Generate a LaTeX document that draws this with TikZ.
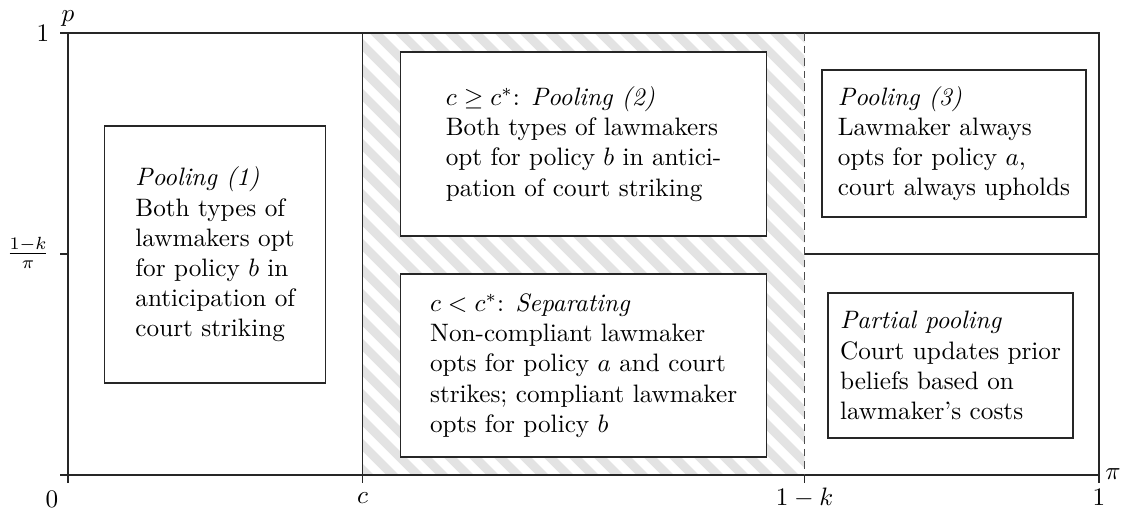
\documentclass[tikz,border=0pt]{standalone}
\usetikzlibrary{calc}
\begin{document}
\begin{tikzpicture}[x=0.3968pt,y=-0.3968pt,
  axis/.style={line width=0.45pt, black!85},
  hatch/.style={gray!22, line width=3.5pt},
  divider/.style={line width=0.45pt, black!70},
  regionbox/.style={draw=black!85, fill=white, inner sep=0pt, line width=0.5pt,
                    align=left, font=\fontsize{10}{12}\selectfont},
  lbl/.style={inner sep=0pt, font=\fontsize{10}{12}\selectfont}]
\useasboundingbox (0,0) rectangle (1130,516);

% key positions: origin, c, 1-k, right end, top, middle height
\coordinate (O)   at (68,475);
\coordinate (TL)  at (68,33);
\coordinate (C0)  at (362.6,475);
\coordinate (C1)  at (362.6,33);
\coordinate (K0)  at (804.5,475);
\coordinate (K1)  at (804.5,33);
\coordinate (R0)  at (1099,475);
\coordinate (R1)  at (1099,33);
\coordinate (KM)  at (804.5,254);
\coordinate (RM)  at (1099,254);

% hatched band between c and 1-k
\begin{scope}
  \clip (C1) rectangle (K0);
  \foreach \k in {-475,-450,...,475}
    \draw[hatch] (362.6+\k,20) -- ++(480,480);
\end{scope}

% frame and axes with ticks
\draw[axis] (60,475) -- (R0);
\draw[axis] (68,483) -- (TL);
\draw[axis] (60,33) -- (R1) -- (1099,483);
\draw[axis] (60,254) -- (68,254);
\draw[axis] (C1) -- (362.6,483);
\draw[axis] (K0) -- (804.5,483);
\draw[divider, dash pattern=on 3pt off 2pt] (K1) -- (K0);
\draw[axis] (KM) -- (RM);

% axis labels
\node[lbl] (ylab)  at (68,19)    {$p$};
\node[lbl, anchor=base] (y1) at (43,41) {$1$};
\node[lbl] (ymid)  at (28,253)   {$\frac{1-k}{\pi}$};
\node[lbl, anchor=base] (x0) at (52,507)    {$0$};
\node[lbl, anchor=base] (xc) at (362.6,503) {$c$};
\node[lbl, anchor=base] (xk) at (804.5,505) {$1-k$};
\node[lbl, anchor=base] (x1) at (1099,505)  {$1$};
\node[lbl] (xlab)  at (1113,474) {$\pi$};

% one box per region, centred in it
\node[regionbox, minimum width=87.7pt, minimum height=102pt] (b1) at (215.3,254.5) {%
  \textit{Pooling (1)}\\ Both types of\\ lawmakers opt\\ for policy $b$ in\\ anticipation of\\ court striking};
\node[regionbox, minimum width=145.2pt, minimum height=73pt] (b2) at (583.6,144) {%
  $c\geq c^{*}$: \textit{Pooling (2)}\\ Both types of lawmakers\\ opt for policy $b$ in antici-\\ pation of court striking};
\node[regionbox, minimum width=145.2pt, minimum height=72.6pt] (b3) at (583.6,365.5) {%
  $c<c^{*}$: \textit{Separating}\\ Non-compliant lawmaker\\ opts for policy $a$ and court\\ strikes; compliant lawmaker\\ opts for policy $b$};
\node[regionbox, minimum width=104.8pt, minimum height=58.3pt] (b4) at (954,143.5) {%
  \textit{Pooling (3)}\\ Lawmaker always\\ opts for policy $a$,\\ court always upholds};
\node[regionbox, minimum width=97.2pt, minimum height=57.5pt] (b5) at (950.5,365.5) {%
  \textit{Partial pooling}\\ Court updates prior\\ beliefs based on\\ lawmaker's costs};
\end{tikzpicture}
\end{document}
